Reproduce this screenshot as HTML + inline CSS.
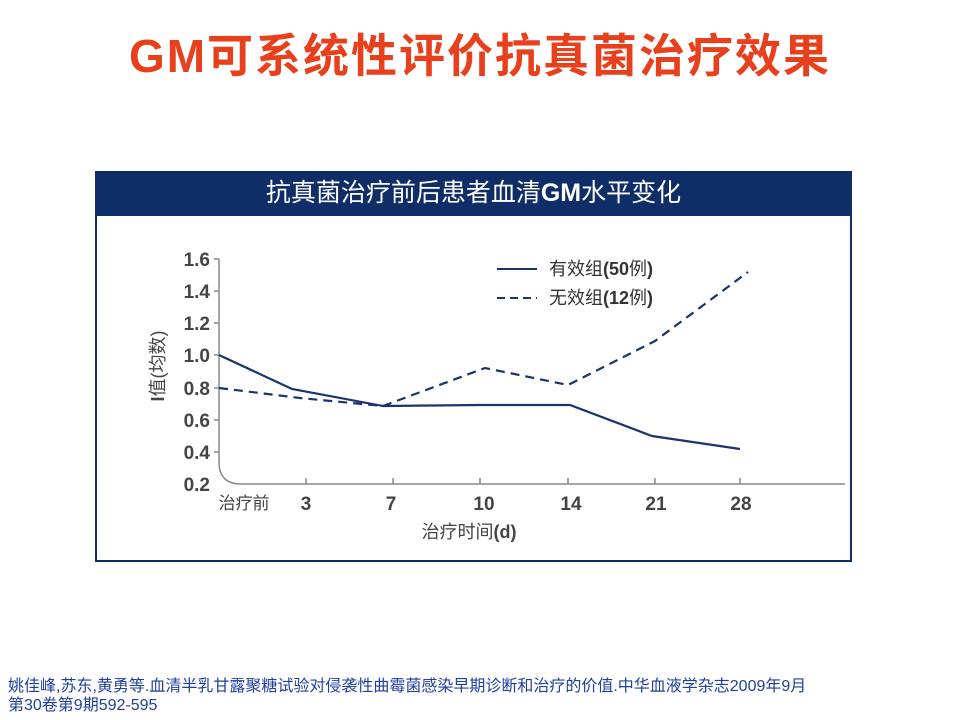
<!DOCTYPE html>
<html><head><meta charset="utf-8"><style>
body{margin:0;width:960px;height:720px;background:#fff;position:relative;font-family:"Liberation Sans","Noto Sans CJK SC",sans-serif;overflow:hidden}
.t{position:absolute;left:0;width:960px;top:20px;text-align:center;color:#e8401c;font-size:46px;font-weight:bold;letter-spacing:2px}
.box{position:absolute;left:95px;top:171px;width:753px;height:389px;border:2px solid #0f2d66;border-top:none}
.hd{position:absolute;left:95px;top:171px;width:757px;height:45px;background:#0f2d66;color:#fff;font-size:25px;text-align:center;line-height:45px}
.ref{position:absolute;left:8px;top:677px;color:#1f3fa0;font-size:16px;line-height:19px}
</style></head><body>
<div class="t">GM可系统性评价抗真菌治疗效果</div>
<div class="box"></div>
<div class="hd">抗真菌治疗前后患者血清<b>GM</b>水平变化</div>
<svg style="position:absolute;left:0;top:0" width="960" height="720">
<g stroke="#888" stroke-width="1.5" fill="none">
<path d="M219 259 V462 Q219 484 241 484 H845"/>
<path d="M214 259h5M214 291h5M214 323h5M214 355h5M214 388h5M214 420h5M214 452h5"/>
<path d="M306 484v-6M393 484v-6M480 484v-6M568 484v-6M655 484v-6M740 484v-6"/>
</g>
<g font-family="Liberation Sans,sans-serif" font-weight="bold" font-size="19" fill="#444" text-anchor="end">
<text x="210" y="266">1.6</text><text x="210" y="298">1.4</text><text x="210" y="330">1.2</text><text x="210" y="362">1.0</text><text x="210" y="395">0.8</text><text x="210" y="427">0.6</text><text x="210" y="459">0.4</text><text x="210" y="491">0.2</text>
</g>
<g font-family="Liberation Sans,sans-serif" font-weight="bold" font-size="19" fill="#444" text-anchor="middle">
<text x="306" y="510">3</text><text x="391" y="510">7</text><text x="484" y="510">10</text><text x="571" y="510">14</text><text x="656" y="510">21</text><text x="741" y="510">28</text>
</g>
<text x="244" y="509" font-size="17" fill="#444" text-anchor="middle" font-family="Noto Sans CJK SC,sans-serif">治疗前</text>
<text x="469" y="538" font-size="18" fill="#444" text-anchor="middle" font-family="Liberation Sans,Noto Sans CJK SC,sans-serif">治疗时间<tspan font-weight="bold">(d)</tspan></text>
<text transform="translate(164,366) rotate(-90)" font-size="18" fill="#444" text-anchor="middle" font-family="Liberation Sans,Noto Sans CJK SC,sans-serif"><tspan font-weight="bold">I</tspan>值(均数)</text>
<polyline fill="none" stroke="#1a3470" stroke-width="2.2" points="219,355 292,389 383,406 480,405 570,405 652,436 740,449"/>
<polyline fill="none" stroke="#1a3470" stroke-width="2.2" stroke-dasharray="9,6" points="219,388 300,398 383,406 485,368 568,385 655,341 748,272"/>
<line x1="497" y1="269" x2="537" y2="269" stroke="#1a3470" stroke-width="2"/>
<line x1="497" y1="298" x2="537" y2="298" stroke="#1a3470" stroke-width="2" stroke-dasharray="8,5"/>
<text x="549" y="275" font-size="18" fill="#333" font-family="Liberation Sans,Noto Sans CJK SC,sans-serif">有效组<tspan font-weight="bold">(50</tspan>例<tspan font-weight="bold">)</tspan></text>
<text x="549" y="304" font-size="18" fill="#333" font-family="Liberation Sans,Noto Sans CJK SC,sans-serif">无效组<tspan font-weight="bold">(12</tspan>例<tspan font-weight="bold">)</tspan></text>
</svg>
<div class="ref">姚佳峰,苏东,黄勇等.血清半乳甘露聚糖试验对侵袭性曲霉菌感染早期诊断和治疗的价值.中华血液学杂志2009年9月<br>第30卷第9期592-595</div>
</body></html>
